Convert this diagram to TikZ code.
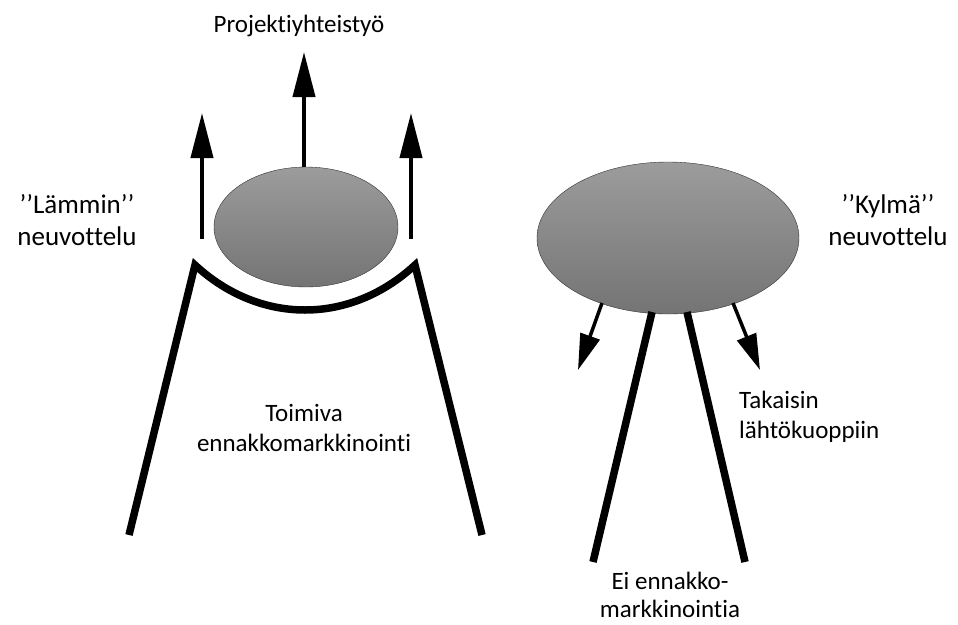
\documentclass[tikz,border=0pt]{standalone}
\usepackage{fontspec}
\setmainfont{Carlito}[Ligatures=NoCommon]
\usetikzlibrary{arrows.meta, positioning, calc, shapes.geometric}
\definecolor{blobtop}{HTML}{9C9C9C}
\definecolor{blobbot}{HTML}{747474}

\begin{document}
\begin{tikzpicture}[x=1pt, y=-1pt,
    every node/.style={inner sep=0pt},
    blob/.style={ellipse, draw=black!80, thin, top color=blobtop, bottom color=blobbot},
    big/.style={font=\fontsize{27}{32}\selectfont, align=center, anchor=base},
    small/.style={font=\fontsize{25}{30}\selectfont, align=center, anchor=base},
    arr/.style={-{Triangle[length=45pt, width=22pt]}, line width=4pt},
    sarr/.style={-{Triangle[length=36pt, width=20pt]}, line width=3.5pt},
    leg/.style={line width=7.5pt, line join=miter}
]
    \useasboundingbox (0,0) rectangle (958,624);
    % warm side
    \node[blob, minimum width=184pt, minimum height=120pt] (warm) at (306,227) {};
    \coordinate (upM) at (304,52);
    \coordinate (upLs) at (202,239);
    \coordinate (upL) at (202,113);
    \coordinate (upRs) at (411,239);
    \coordinate (upR) at (411,113);
    \draw[arr] (warm.north -| upM) -- (upM);
    \draw[arr] (upLs) -- (upL);
    \draw[arr] (upRs) -- (upR);
    \coordinate (cupL) at (195,265);
    \coordinate (cupR) at (415,265);
    \coordinate (footL) at (129,535);
    \coordinate (footR) at (482,535);
    \draw[leg] (footL) -- (cupL) .. controls (260,325) and (350,325) .. (cupR) -- (footR);
    \node[small] (proj) at (299,32) {Projektiyhteistyö};
    \node[big] (warmlbl) at (77,245) {{’’}Lämmin{’’}\\neuvottelu};
    \node[small] (works) at (304,451) {Toimiva\\ennakkomarkkinointi};
    % cold side
    \node[blob, minimum width=262pt, minimum height=152pt] (cold) at (668,238) {};
    \coordinate (dnLs) at (602,303);
    \coordinate (dnL) at (578,370);
    \coordinate (dnRs) at (733,303);
    \coordinate (dnR) at (760,370);
    \draw[sarr] (dnLs) -- (dnL);
    \draw[sarr] (dnRs) -- (dnR);
    \coordinate (legLt) at (652,312);
    \coordinate (legLb) at (593,562);
    \coordinate (legRt) at (687,312);
    \coordinate (legRb) at (745,562);
    \draw[leg] (legLt) -- (legLb);
    \draw[leg] (legRt) -- (legRb);
    \node[big] (coldlbl) at (888,245) {{’’}Kylmä{’’}\\neuvottelu};
    \node[small, align=left, anchor=base west] (back) at (739,438) {Takaisin\\lähtökuoppiin};
    \node[small, font=\fontsize{25}{28}\selectfont] (none) at (670,617) {Ei ennakko-\\markkinointia};
\end{tikzpicture}
\end{document}
